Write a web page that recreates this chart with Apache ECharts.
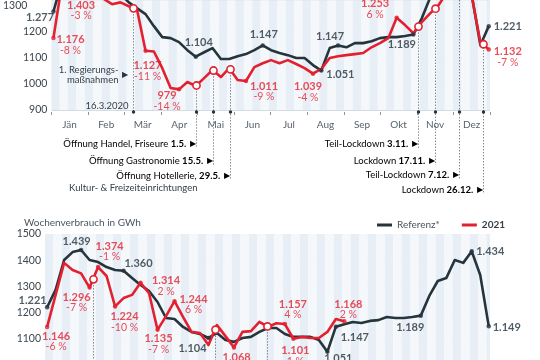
<!DOCTYPE html>
<html><head><meta charset="utf-8">
<script src="https://cdn.jsdelivr.net/npm/echarts/dist/echarts.min.js"></script>
<style>html,body{margin:0;padding:0;background:#fff}#chart{width:540px;height:360px}</style>
</head><body><div id="chart"></div>
<script>
// ---------- data ----------
const months = ['Jän','Feb','Mär','Apr','Mai','Jun','Jul','Aug','Sep','Okt','Nov','Dez'];
const weeks = [1,2,3,4,5,6,7,8,9,10,11,12,13,14,15,16,17,18,19,20,21,22,23,24,25,26,27,28,29,30,31,32,33,34,35,36,37,38,39,40,41,42,43,44,45,46,47,48,49,50,51,52,53];
const ref2020 = [1277,1390,1430,1440,1446,1435,1415,1390,1345,1312,1289,1267,1221,1179,1175,1160,1129,1104,1121,1137,1095,1095,1106,1114,1129,1147,1129,1118,1110,1099,1099,1072,1051,1137,1147,1140,1156,1156,1163,1175,1179,1179,1183,1189,1251,1330,1370,1390,1410,1420,1335,1148,1221];
const val2020 = [1176,1380,1420,1403,1425,1395,1325,1305,1312,1297,1282,1127,1124,1060,984,979,1007,992,1022,1053,1026,1060,1015,1011,1064,1079,1091,1079,1091,1076,1060,1039,1057,1099,1106,1110,1114,1118,1140,1156,1175,1253,1225,1194,1236,1270,1301,1350,1380,1400,1330,1160,1132];
const ref2021 = [1221,1287,1401,1431,1439,1401,1393,1374,1363,1360,1332,1306,1283,1241,1180,1176,1146,1127,1119,1104,1123,1096,1089,1104,1108,1127,1142,1142,1119,1108,1108,1108,1096,1051,1147,1156,1165,1161,1169,1172,1184,1180,1180,1184,1189,1264,1321,1332,1401,1390,1434,1344,1149];
const val2021 = [1146,1268,1390,1363,1350,1296,1374,1340,1224,1256,1268,1314,1275,1135,1187,1244,1184,1127,1123,1077,1153,1111,1068,1127,1130,1165,1146,1160,1157,1101,1108,1104,1104,1127,1176,1168];
const yTicksTop = [900,1000,1100,1200,1300];
const yTicksBottom = [1100,1200,1300,1400,1500];
// annotated points: [series, week, percent text]
const annTop = [['ref',1,''],['val',1,'-8 %'],['val',4,'-3 %'],['val',12,'-11 %'],['val',16,'-14 %'],['ref',18,''],['ref',26,''],['val',24,'-9 %'],['val',32,'-4 %'],['ref',33,''],['ref',35,''],['val',42,'6 %'],['ref',44,''],['ref',53,''],['val',53,'-7 %']];
const annBottom = [['ref',1,''],['val',1,'-6 %'],['ref',5,''],['val',6,'-7 %'],['val',7,'-1 %'],['ref',10,''],['val',9,'-10 %'],['val',12,'2 %'],['val',14,'-7 %'],['val',16,'6 %'],['ref',20,''],['val',23,'-2 %'],['val',29,'4 %'],['val',30,'1 %'],['ref',34,''],['ref',35,''],['val',36,'2 %'],['ref',45,''],['ref',51,''],['ref',53,'']];
// events (position in weeks)
const eventsTop = [
  {w:10.53, date:'16.3.2020', text:''},
  {w:18.06, date:'1.5.', text:'Öffnung Handel, Friseure '},
  {w:20.07, date:'15.5.', text:'Öffnung Gastronomie '},
  {w:22.1, date:'29.5.', text:'Öffnung Hotellerie, ', text2:'Kultur- & Freizeiteinrichtungen'},
  {w:44.6, date:'3.11.', text:'Teil-Lockdown '},
  {w:46.57, date:'17.11.', text:'Lockdown '},
  {w:49.4, date:'7.12.', text:'Teil-Lockdown '},
  {w:52.3, date:'26.12.', text:'Lockdown '}
];
const eventsBottom = [{w:6.4},{w:20.77},{w:26.9}];

// ---------- layout / styles ----------
const RED = '#e3202f', DARK = '#25343d', FONT = 'Lato, "Open Sans", sans-serif';
const annTopPos = [[-13.5,6],[17,7],[2.5,32],[2,20],[-12,11.5],[3,-14.5],[1,-11],[18,10],[-5,18],[19,4],[-8,-9],[-21.5,-9],[-11.5,10],[19,0],[19,7.5]];
const annBottomPos = [[-14.5,-7],[9,14.5],[-4.5,-9],[-13,15],[11.5,-16],[15,-7.5],[9.5,15.5],[25.5,3],[1,14],[19,3],[-16,11],[2.7,15],[8,-15],[2,17],[11,7],[19,11],[4,-12],[-10.5,11.5],[18.5,0],[18,1.5]];
const eventTopRows = [112,144,161,176,144,161,175,190];

function fmt(v){ return v >= 1000 ? Math.floor(v/1000) + '.' + String(v % 1000).padStart(3,'0') : String(v); }
function interp(arr, w){ const k = Math.floor(w), f = w - k; const a = arr[k-1], b = arr[Math.min(k, arr.length-1)]; return a + (b - a) * f; }
function pairs(arr){ return arr.map((v,i)=>[weeks[i], v]); }

function annSeries(list, pos, refArr, valArr, xi, yi){
  return {
    type:'scatter', xAxisIndex:xi, yAxisIndex:yi, clip:false, z:6, symbolSize:4.5, silent:true,
    data: list.map((a,i)=>{
      const arr = a[0]==='ref' ? refArr : valArr;
      const v = arr[a[1]-1];
      const col = a[0]==='ref' ? DARK : RED;
      return {
        value:[weeks[a[1]-1], v],
        itemStyle:{color:col},
        label:{show:true, position:'inside', offset:pos[i], align:'center', verticalAlign:'middle',
          formatter: a[2] ? '{v|'+fmt(v)+'}\n{p|'+a[2]+'}' : '{v|'+fmt(v)+'}',
          rich:{v:{fontFamily:FONT, fontWeight:'bold', fontSize:11, lineHeight:11, color:col, align:'center'},
                p:{fontFamily:FONT, fontSize:10.5, lineHeight:10, color:col, align:'center'}}}
      };
    })
  };
}

const evRich = {n:{fontFamily:FONT, fontSize:9.5, color:'#33404a'}, b:{fontFamily:FONT, fontSize:9.5, fontWeight:'bold', color:'#25343d'}, t:{fontSize:7.5, color:'#25343d'}};

function renderTopEvent(params, api){
  const i = api.value(2), e = eventsTop[i], cs = params.coordSys;
  const p = api.coord([api.value(0), api.value(1)]);
  const x = Math.round(p[0]) + 0.5, axisY = cs.y + cs.height + 2;
  const rowY = eventTopRows[i];
  const endY = i === 0 ? axisY : rowY + 4;
  const kids = [];
  kids.push({type:'line', shape:{x1:x, y1:Math.max(p[1], cs.y), x2:x, y2:endY}, style:{stroke:'#4a5660', lineWidth:1, lineDash:[1,2]}});
  kids.push({type:'circle', shape:{cx:x, cy:axisY, r:1.7}, style:{fill:'#25343d'}});
  if (p[1] >= cs.y) kids.push({type:'circle', shape:{cx:x, cy:p[1], r:3.6}, style:{fill:'#fff', stroke:RED, lineWidth:1.6}});
  if (i === 0){
    kids.push({type:'text', x:x-5, y:axisY-6, style:{text:e.date, fontFamily:FONT, fontSize:9.5, fill:'#33404a', align:'right', verticalAlign:'middle'}});
    kids.push({type:'text', x:x-15, y:75, style:{text:'1. Regierungs-\nmaßnahmen', fontFamily:FONT, fontSize:9.5, lineHeight:10, fill:'#33404a', align:'right', verticalAlign:'middle'}});
    kids.push({type:'text', x:x-9, y:75, style:{text:'▶', fontSize:7.5, fill:'#25343d', align:'center', verticalAlign:'middle'}});
  } else {
    kids.push({type:'text', x:x-1, y:rowY, style:{text:'{n|'+e.text+'}{b|'+e.date+'} {t|▶}', rich:evRich, align:'right', verticalAlign:'middle'}});
    if (e.text2) kids.push({type:'text', x:x-33, y:rowY+12, style:{text:e.text2, fontFamily:FONT, fontSize:9.5, fill:'#33404a', align:'right', verticalAlign:'middle'}});
  }
  return {type:'group', children:kids};
}
function renderBottomEvent(params, api){
  const cs = params.coordSys;
  const p = api.coord([api.value(0), api.value(1)]);
  const x = Math.round(p[0]) + 0.5;
  return {type:'group', children:[
    {type:'line', shape:{x1:x, y1:p[1], x2:x, y2:cs.y+cs.height}, style:{stroke:'#4a5660', lineWidth:1, lineDash:[1,2]}},
    {type:'circle', shape:{cx:x, cy:p[1], r:3.6}, style:{fill:'#fff', stroke:RED, lineWidth:1.6}}
  ]};
}

const stripe = {show:true, areaStyle:{color:['#e7eef5','#f5f8fb']}};
const lineStyle = (c)=>({type:'line', symbol:'none', lineStyle:{color:c, width:2.6, join:'round'}, itemStyle:{color:c}, z:3, silent:true});
const yLabel = {color:'#3c464e', fontSize:10.5, margin:4, fontFamily:FONT};

const option = {
  animation:false,
  textStyle:{fontFamily:FONT},
  title:{text:'Wochenverbrauch in GWh', left:19, top:213, textStyle:{fontFamily:FONT, fontSize:10, fontWeight:'normal', color:'#4a555e'}},
  legend:{left:372, top:215, itemWidth:15, itemHeight:3, icon:'rect', itemGap:22,
    textStyle:{fontFamily:FONT, fontSize:10, color:'#4a555e'},
    data:[{name:'Referenz*'},{name:'2021', textStyle:{fontWeight:'bold', color:'#33404a'}}]},
  grid:[
    {left:45, top:0, width:445, height:110},
    {left:45, top:234, width:445, bottom:0}
  ],
  xAxis:[
    {type:'category', gridIndex:0, data:months, position:'bottom', offset:2, boundaryGap:true,
      axisLine:{show:false}, axisTick:{show:true, length:3, lineStyle:{color:'#8a949c'}},
      axisLabel:{color:'#56636d', fontSize:10, margin:8, fontFamily:FONT}, splitLine:{show:false}},
    {type:'value', gridIndex:0, min:0.75, max:53.15, show:false},
    {type:'value', gridIndex:0, min:0, max:52.4, interval:1, axisLine:{show:false}, axisTick:{show:false}, axisLabel:{show:false}, splitLine:{show:false}, splitArea:stripe},
    {type:'value', gridIndex:1, min:0.75, max:53.15, show:false},
    {type:'value', gridIndex:1, min:0, max:52.4, interval:1, axisLine:{show:false}, axisTick:{show:false}, axisLabel:{show:false}, splitLine:{show:false}, splitArea:stripe}
  ],
  yAxis:[
    {type:'value', gridIndex:0, min:yTicksTop[0], max:1320, interval:100,
      axisLine:{show:false}, axisTick:{show:false},
      axisLabel:Object.assign({}, yLabel, {showMaxLabel:false,
        formatter:(v)=> v === yTicksTop[yTicksTop.length-1] ? '{s|'+v+'}' : String(v),
        rich:{s:{padding:[0,20,0,0], fontSize:10.5, color:'#3c464e', fontFamily:FONT}}}),
      splitLine:{lineStyle:{color:'#d3dbe3', width:1}}},
    {type:'value', gridIndex:1, min:1020, max:yTicksBottom[yTicksBottom.length-1], splitNumber:5,
      axisLine:{show:false}, axisTick:{show:false},
      axisLabel:Object.assign({}, yLabel, {showMinLabel:false, formatter:(v)=> yTicksBottom.indexOf(v) >= 0 ? String(v) : ''}),
      splitLine:{lineStyle:{color:'#d3dbe3', width:1}}}
  ],
  series:[
    Object.assign(lineStyle(DARK), {name:'Referenz*', xAxisIndex:1, yAxisIndex:0, data:pairs(ref2020)}),
    Object.assign(lineStyle(RED), {name:'2020', xAxisIndex:1, yAxisIndex:0, data:pairs(val2020)}),
    {type:'custom', xAxisIndex:1, yAxisIndex:0, z:5, silent:true, renderItem:renderTopEvent,
      data: eventsTop.map((e,i)=>[e.w, interp(val2020, e.w), i])},
    annSeries(annTop, annTopPos, ref2020, val2020, 1, 0),
    Object.assign(lineStyle(DARK), {name:'Referenz*', xAxisIndex:3, yAxisIndex:1, data:pairs(ref2021)}),
    Object.assign(lineStyle(RED), {name:'2021', xAxisIndex:3, yAxisIndex:1, data:pairs(val2021)}),
    {type:'custom', xAxisIndex:3, yAxisIndex:1, z:5, silent:true, renderItem:renderBottomEvent,
      data: eventsBottom.map((e,i)=>[e.w, interp(val2021, e.w), i])},
    annSeries(annBottom, annBottomPos, ref2021, val2021, 3, 1)
  ]
};
const chart = echarts.init(document.getElementById('chart'), null, {renderer:'canvas'});
chart.setOption(option);
</script></body></html>
